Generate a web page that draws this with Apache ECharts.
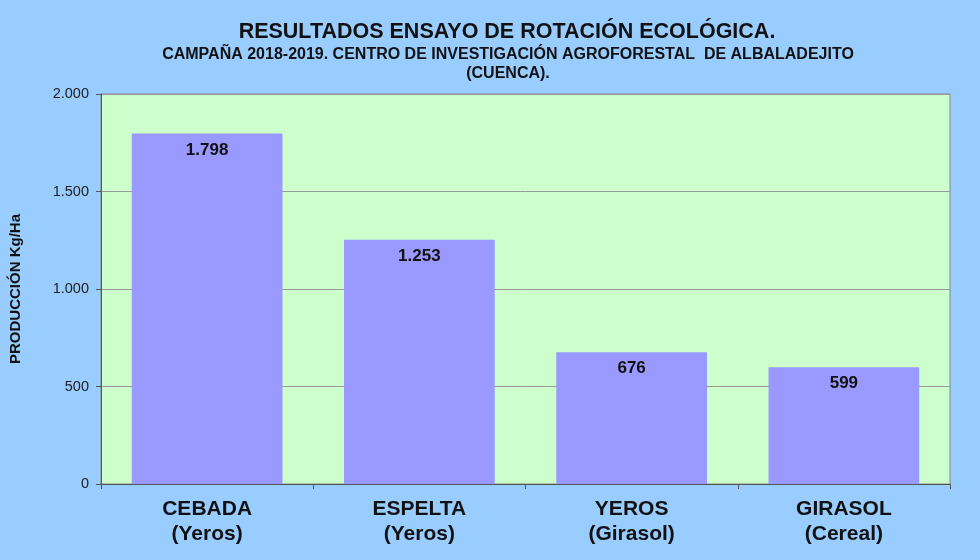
<!DOCTYPE html>
<html><head><meta charset="utf-8">
<script src="https://cdn.jsdelivr.net/npm/echarts@6/dist/echarts.min.js"></script>
<style>html,body{margin:0;padding:0;background:#99ccff}#c{width:980px;height:560px}</style>
</head><body><div id="c"></div>
<script>
const categories = ['CEBADA', 'ESPELTA', 'YEROS', 'GIRASOL'];
const subCategories = ['(Yeros)', '(Yeros)', '(Girasol)', '(Cereal)'];
const values = [1798, 1253, 676, 599];
const yTicks = [0, 500, 1000, 1500, 2000];

function fmt(v){ return String(v).replace(/\B(?=(\d{3})+(?!\d))/g, '.'); }

const chart = echarts.init(document.getElementById('c'));
chart.setOption({
  backgroundColor: '#99ccff',
  textStyle: { fontFamily: 'Liberation Sans, Arial, sans-serif' },
  title: [{
    text: 'RESULTADOS ENSAYO DE ROTACIÓN ECOLÓGICA.',
    left: 502, top: 16, textAlign: 'center',
    textStyle: { fontSize: 21.5, fontWeight: 'bold', color: '#111' }
  },{
    text: 'CAMPAÑA 2018-2019. CENTRO DE INVESTIGACIÓN AGROFORESTAL  DE ALBALADEJITO\n(CUENCA).',
    left: 503, top: 40, textAlign: 'center',
    textStyle: { fontSize: 16, fontWeight: 'bold', color: '#111', lineHeight: 19 }
  }],
  grid: { left: 97, right: 30, top: 94, bottom: 76, show: true, backgroundColor: '#ccffcc', borderColor: '#888', borderWidth: 1 },
  xAxis: {
    type: 'category',
    data: categories.map((c, i) => c + '\n' + subCategories[i]),
    axisLine: { lineStyle: { color: '#555' } },
    axisTick: { show: true, length: 5, lineStyle: { color: '#555' } },
    axisLabel: { fontSize: 21, fontWeight: 'bold', color: '#111', lineHeight: 25, margin: 13 }
  },
  yAxis: {
    type: 'value', min: 0, max: 2000, interval: 500,
    name: 'PRODUCCIÓN Kg/Ha', nameLocation: 'middle', nameGap: 78, nameRotate: 90,
    nameTextStyle: { fontSize: 15, fontWeight: 'bold', color: '#111' },
    axisLine: { show: true, lineStyle: { color: '#555' } },
    axisTick: { show: true, length: 5, lineStyle: { color: '#555' } },
    axisLabel: { fontSize: 14.5, color: '#222', margin: 12, formatter: v => yTicks.includes(v) ? fmt(v) : '' },
    splitLine: { lineStyle: { color: '#999', width: 1 } }
  },
  series: [{
    type: 'bar', data: values, barWidth: '71%',
    itemStyle: { color: '#9999ff' },
    label: { show: true, position: 'insideTop', distance: 8, fontSize: 17, fontWeight: 'bold', color: '#111', formatter: p => fmt(p.value) }
  }]
});
</script></body></html>
